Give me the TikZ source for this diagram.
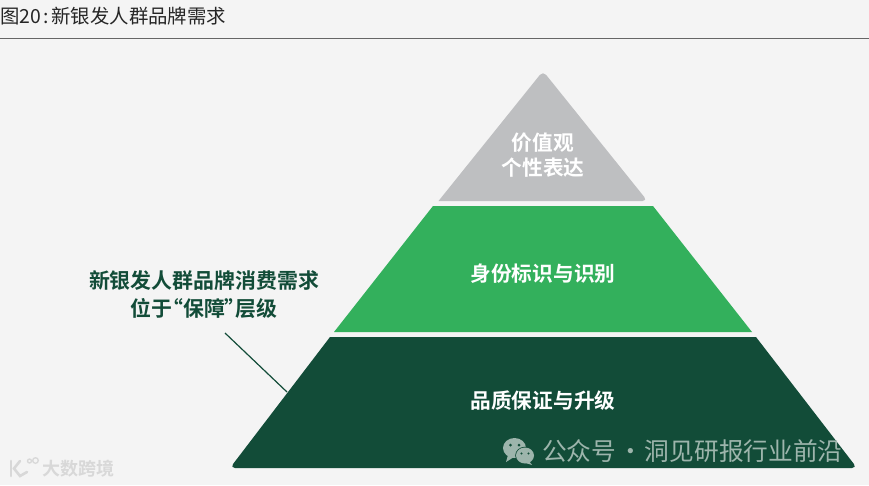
\documentclass[tikz,border=0pt]{standalone}
\usepackage{fontspec}
\setmainfont{Noto Sans CJK SC}
\newfontfamily\cjkb{Noto Sans CJK SC Bold}
\usetikzlibrary{calc}
\definecolor{bg}{HTML}{F4F4F4}
\definecolor{graytier}{HTML}{BEBFC1}
\definecolor{greentier}{HTML}{33B05C}
\definecolor{darktier}{HTML}{124C38}
\definecolor{wm}{HTML}{9DB5AC}
\definecolor{logo}{HTML}{D8D8D8}
\tikzset{
  tierlabel/.style={font=\cjkb\fontsize{20.7}{25.5}\selectfont,text=white,align=center,inner sep=0pt},
  notelabel/.style={font=\cjkb\fontsize{20.9}{28}\selectfont,text=darktier,align=center,inner sep=0pt},
  titletext/.style={font=\fontsize{19.4}{22}\selectfont,text=black!85,anchor=west,inner sep=0pt},
  wmtext/.style={font=\fontsize{24.7}{28}\selectfont,text=wm,anchor=west,inner sep=0pt},
}
\begin{document}
\begin{tikzpicture}[x=1pt,y=-1pt]
\useasboundingbox (0,0) rectangle (869,485);
\fill[bg] (0,0) rectangle (869,485);
% title
\node[titletext] (title) at (0,16.5) {图20\kern2pt:\kern3pt 新银发人群品牌需求};
\coordinate (ruleL) at (0,38.5);
\coordinate (ruleR) at (869,38.5);
\draw[line width=1pt,black!60] (ruleL) -- (ruleR);
% tiers
\fill[graytier,rounded corners=5pt] (438.5,201) -- (543,71) -- (647.5,201) [sharp corners] -- cycle;
\fill[greentier] (433,206) -- (653,206) -- (752,332) -- (334,332) -- cycle;
\fill[darktier] (330,337) -- (756,337)
  [rounded corners=5pt] -- (857,468) -- (230,468) [sharp corners] -- cycle;
% labels
\node[tierlabel] (top) at (543,155) {价值观\\个性表达};
\node[tierlabel] (mid) at (543,274) {身份标识与识别};
\node[tierlabel] (bot) at (543,401) {品质保证与升级};
\node[notelabel] (note) at (204,295) {新银发人群品牌消费需求\\位于\kern-10.5pt“保障”\kern-10.5pt层级};
% leader
\coordinate (leadA) at (225,333);
\coordinate (leadB) at (287,392);
\draw[line width=1.2pt,darktier] (leadA) -- (leadB);
% WeChat watermark
\fill[wm] (514.5,448) ellipse (11.5 and 10);
\fill[wm] (508,455) -- (506,462) -- (514,457) -- cycle;
\fill[darktier] (525,455.5) ellipse (9.8 and 8.8);
\fill[wm] (525,455.5) ellipse (9 and 8);
\fill[wm] (529,461) -- (532,465) -- (524,462.5) -- cycle;
\fill[darktier] (510.5,445) circle (1.5) (519,445) circle (1.5) (521.5,453.5) circle (1.2) (528.5,453.5) circle (1.2);
\node[wmtext] (wechat) at (542,451) {公众号\kern2pt·\kern2pt 洞见研报行业前沿};
% lower-left logo
\draw[logo,line width=2.6pt,line cap=round] (11,461) -- (11,476);
\draw[logo,line width=2.6pt,line cap=round] (20,461) -- (14,468.5) -- (20,476) -- (27,472);
\draw[logo,line width=1.3pt] (29.5,461) circle (2) (35.5,460.5) circle (2.8);
\node[font=\cjkb\fontsize{18}{20}\selectfont,text=logo,anchor=west,inner sep=0pt] (brand) at (42,469) {大数跨境};
\end{tikzpicture}
\end{document}
